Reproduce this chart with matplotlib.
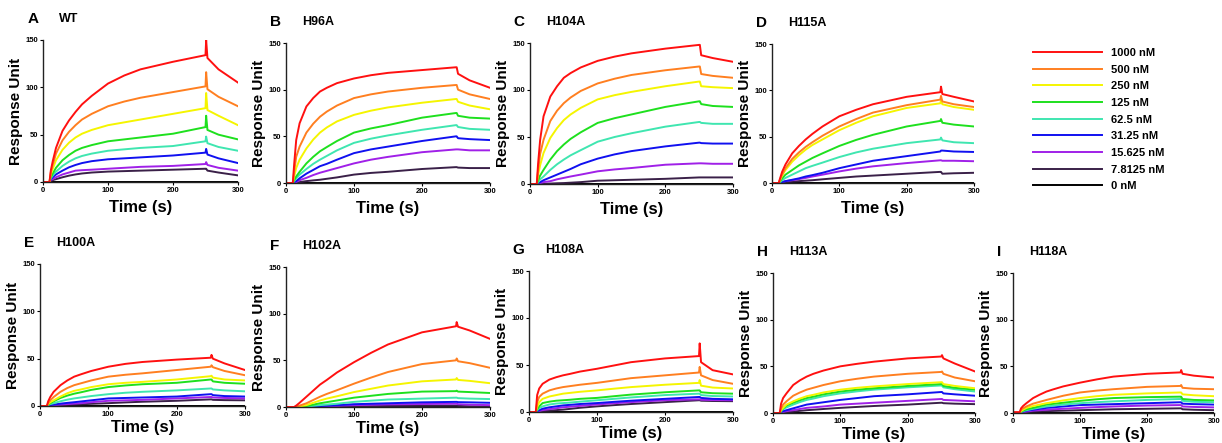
import numpy as np
import matplotlib
matplotlib.use('Agg')
import matplotlib.pyplot as plt

plt.rcParams['font.family'] = ['Liberation Sans', 'DejaVu Sans']
plt.rcParams['font.weight'] = 'bold'

# sampling times (s) shared by every sensorgram
time = [0, 10, 12, 15, 20, 30, 40, 50, 60, 75, 100, 125, 150, 200, 250,
        251, 253, 270, 300]

conc_labels = ['1000 nM', '500 nM', '250 nM', '125 nM', '62.5 nM',
               '31.25 nM', '15.625 nM', '7.8125 nM', '0 nM']
colors = ['#ff1010', '#ff7f20', '#f5f500', '#1ee01e', '#3fe6b0',
          '#1010f0', '#a020e8', '#3a2048', '#000000']

zero = [0] * len(time)

wt = [
    [0, 0, 12, 22, 36, 54, 65, 74, 82, 91, 104, 112.5, 119, 127, 134, 150, 131, 119, 105],
    [0, 0, 10, 18, 30, 44, 53, 60, 66, 72, 80, 85, 89, 95, 101, 116, 98, 90, 80],
    [0, 0, 8, 14, 23, 34, 41.5, 47, 51, 55, 60, 63, 66, 72, 78, 94, 76, 70, 60],
    [0, 0, 5, 9, 15, 23, 28.5, 33, 36, 39, 43, 45, 47, 51, 58, 70, 55, 50, 45],
    [0, 0, 4, 7, 11, 17, 21.5, 25, 27.5, 30, 33, 34.5, 36, 38, 43, 48, 41, 37, 33],
    [0, 0, 3, 5, 8, 12, 15.5, 18, 20, 22, 24, 25, 26, 28, 31, 35, 29, 25, 20],
    [0, 0, 2, 3, 5, 8, 10, 12, 12.5, 13, 14, 15, 16, 17, 19, 21, 18, 15, 12],
    [0, 0, 1, 2, 3, 5, 6.7, 8, 9, 10, 11, 11.5, 12, 13, 14, 14, 12, 10, 7],
    zero,
]

h96a = [
    [0, 0, 20, 46, 64, 82, 91, 98, 102, 107, 112, 115.5, 118, 121, 124, 124, 117, 110, 102],
    [0, 0, 12, 28, 39, 54, 63.5, 71, 76.5, 83, 91, 95, 98, 102, 105, 105, 100, 95, 90],
    [0, 0, 7, 16, 25, 37, 46.5, 54, 59.5, 66, 73, 77.5, 81, 86, 90, 90, 87, 83, 79],
    [0, 0, 3, 7, 12, 21, 28, 34, 38.5, 45, 54, 58.5, 62, 70, 75, 75, 72, 70, 69],
    [0, 0, 2, 5, 9, 15, 20.5, 25, 29, 35, 43, 47.5, 51, 57, 62, 62, 60, 58, 57],
    [0, 0, 1, 2, 5, 10, 14, 18, 20.5, 25, 32, 36, 39, 45, 50, 50, 48, 47, 46],
    [0, 0, 0.5, 1, 3, 5.5, 8.5, 11, 13, 16, 21, 25, 28, 33, 36, 36, 36, 35, 35],
    [0, 0, 0, 0.5, 1, 2, 2.8, 3.5, 4.5, 6, 9, 10.8, 12, 15, 17, 17, 16.5, 16, 16],
    zero,
]

h104a = [
    [0, 0, 22, 47, 72, 93, 104, 113, 118, 124, 131, 135.5, 139, 144, 148, 148, 137, 134, 130],
    [0, 0, 15, 32, 47, 67, 78, 86, 92, 99, 107, 112, 116, 121, 125, 125, 117, 115, 113],
    [0, 0, 10, 20, 33, 49, 59.5, 68, 74, 81, 90, 94.5, 98, 104, 109, 109, 104, 103, 102],
    [0, 0, 4, 9, 15, 26, 35, 42, 48, 55, 65, 70, 74, 82, 88, 88, 85, 83, 82],
    [0, 0, 2, 5, 8, 15, 21, 26, 30.5, 36, 45, 50, 54, 61, 66, 66, 65, 64, 64],
    [0, 0, 1, 2, 4, 7, 10, 13, 16, 21, 27, 31.5, 35, 40, 44, 44, 43.5, 43, 43],
    [0, 0, 0.5, 1, 2, 3, 5, 6.5, 8, 10, 13.5, 15.5, 17, 20.5, 22, 22, 22, 21.5, 21.5],
    [0, 0, 0, 0, 0.3, 0.5, 0.8, 1, 1.4, 2, 3.5, 4, 4.5, 5.5, 7, 7, 7, 7, 7],
    zero,
]

h115a = [
    [0, 0, 5, 12, 20, 32, 40, 47, 53, 61, 72, 79, 85, 93, 98, 104, 96, 93, 88],
    [0, 0, 4, 9, 16, 26, 33, 39, 44, 51, 61, 69, 76, 84, 90, 94, 88, 85, 82],
    [0, 0, 3, 8, 14, 23, 30, 36, 41, 47, 57, 65, 72, 81, 86, 89, 85, 82, 79],
    [0, 0, 2, 5, 9, 14, 19, 23, 27, 32, 40, 46.5, 52, 61, 67, 69, 65, 63, 61],
    [0, 0, 1, 3, 5.5, 9, 12.5, 16, 18.5, 22, 28, 33, 37, 43, 47, 49, 46, 44, 43],
    [0, 0, 0.5, 1, 2, 3.5, 5, 7, 8.5, 11, 16, 20, 24, 29, 34, 35, 35, 34, 33.5],
    [0, 0, 0.5, 1, 2, 3, 4.2, 5.5, 7, 9, 12.5, 15.5, 18, 21.5, 24.5, 24.5, 24, 24, 23.5],
    [0, 0, 0, 0.5, 1, 1.5, 2, 2.5, 3, 4, 5.5, 7, 8, 10, 12, 12, 10, 10.5, 11],
    zero,
]

h100a = [
    [0, 0, 5, 9.5, 15, 22, 27, 31, 33.5, 37, 41.5, 44.5, 46.5, 49, 51, 54, 50, 45, 38],
    [0, 0, 3, 6, 9.5, 15, 19, 22, 24, 27, 31, 33, 34.5, 38, 41.5, 43, 41, 37, 32.5],
    [0, 0, 2, 4, 6, 10, 13.5, 16, 17.5, 20, 23, 24.5, 25.5, 28, 31.5, 32, 30, 28, 27],
    [0, 0, 1.5, 3, 5, 8.5, 11, 13, 14.5, 17, 20, 21.7, 23, 24.5, 28, 28, 26, 24.5, 23.5],
    [0, 0, 1, 2, 3, 5, 6.7, 8, 9, 10.5, 12.5, 14, 15, 16.5, 18.5, 18.5, 17.5, 16.5, 15.5],
    [0, 0, 0.5, 1, 1.5, 2.5, 3.3, 4, 4.8, 6, 8, 8.5, 9, 10, 12.5, 12.5, 11.5, 10.5, 10],
    [0, 0, 0.3, 0.6, 1, 1.5, 2, 2.5, 3, 4, 5.5, 6, 6.5, 8, 9.5, 9.5, 9, 8.5, 8],
    [0, 0, 0, 0.3, 0.5, 1, 1.3, 1.5, 1.8, 2.3, 3, 3.8, 4.5, 5.5, 7, 7, 6.5, 6.2, 6],
    zero,
]

h102a = [
    [0, 0, 0, 1.5, 4.5, 11, 17.5, 24, 29, 37, 48, 58, 67, 80, 86.5, 91, 86, 82, 73],
    [0, 0, 0, 0.5, 1.5, 4, 7.5, 11, 14, 18, 25, 31.5, 37.5, 46, 50, 52, 49, 47, 42],
    [0, 0, 0, 0.2, 0.7, 2, 4.5, 7, 9, 11.5, 16, 19.5, 23, 27.5, 29.5, 31, 29, 28, 25.5],
    [0, 0, 0, 0.1, 0.3, 1, 2.5, 4, 5.2, 7, 10, 12, 14, 16.5, 17, 17.5, 16.5, 16, 15],
    [0, 0, 0, 0, 0.2, 0.5, 1.2, 2, 2.6, 3.5, 5.5, 6.8, 8, 9, 10, 10, 9.5, 9, 8.5],
    [0, 0, 0, 0, 0.1, 0.3, 0.6, 1, 1.4, 2, 3, 3.5, 4, 5, 5.5, 5.5, 5.2, 5, 4.5],
    [0, 0, 0, 0, 0, 0.2, 0.4, 0.7, 1, 1.3, 2, 2.4, 2.8, 3.2, 3.5, 3.5, 3, 2.5, 2],
    [0, 0, 0, 0, 0, 0.1, 0.2, 0.3, 0.4, 0.6, 0.8, 1, 1.1, 1.3, 1.5, 1.5, 1.2, 0.8, 0.5],
    zero,
]

h108a = [
    [0, 0, 18, 25, 30, 34.5, 37, 39, 40.5, 43, 46, 49.5, 53, 57, 59.5, 73, 53, 44.5, 40],
    [0, 0, 10.5, 16, 19.5, 23, 25, 26.5, 27.5, 29, 31, 33.5, 36, 39, 42, 48, 39, 34, 30],
    [0, 0, 5, 10.5, 14, 16.5, 18, 19.5, 20.3, 21.5, 23, 24.8, 26.5, 29, 31, 34, 28, 26, 25],
    [0, 0, 3, 6, 9.5, 11, 12, 12.5, 13, 14, 15, 16.8, 18.5, 21, 23, 23, 21, 20, 19.5],
    [0, 0, 2, 4, 6, 8, 9, 9.5, 10, 11, 12.5, 14, 15.5, 18, 19.5, 19.5, 18, 17, 16.5],
    [0, 0, 1, 2, 3.5, 5, 6, 7, 7.6, 8.5, 9.5, 10.8, 12, 14, 16, 16, 15, 14, 13.5],
    [0, 0, 0.5, 1, 2, 3, 4, 5, 5.6, 6.5, 8, 9.3, 10.5, 12.5, 13.5, 13.5, 13, 12.7, 12.5],
    [0, 0, 0.2, 0.5, 1, 1.5, 2, 2.5, 3.3, 4.5, 6, 7.3, 8.5, 10.5, 12.5, 12.5, 12, 11.7, 11.5],
    zero,
]

h113a = [
    [0, 0, 10, 16, 21, 30, 35, 39, 42, 45.5, 50, 52.7, 55, 58.5, 60.5, 62, 58.5, 53, 44.5],
    [0, 0, 5, 9, 12.5, 18.5, 22, 25, 27, 30, 34, 36.7, 39, 42, 44, 44.5, 42, 38, 34],
    [0, 0, 3, 5.5, 9, 12.5, 15.5, 18, 19.5, 22, 25, 27, 28.5, 31, 33, 33, 31, 29, 26.5],
    [0, 0, 2.5, 5, 8, 11, 13.7, 16, 17.5, 20, 23, 25, 26.5, 29, 31, 31, 29, 27, 25],
    [0, 0, 2, 4, 6, 9, 11.7, 14, 15.5, 18, 21, 23.2, 25, 27.5, 29.5, 29.5, 27.5, 25.5, 23],
    [0, 0, 1, 2, 3, 5, 7, 9, 10, 11.5, 14, 16, 18, 20, 22.5, 22.5, 21, 20, 18.5],
    [0, 0, 0.5, 1, 2, 3, 4.3, 5.5, 6.1, 7, 9, 10, 11, 13, 15, 15, 14, 13.5, 12.5],
    [0, 0, 0.3, 0.5, 1, 1.5, 2.3, 3, 3.5, 4.3, 5.5, 6.5, 7.5, 9, 11, 11, 10.5, 10, 9.5],
    zero,
]

h118a = [
    [1, 1, 5, 7.5, 10.5, 16, 19.7, 23, 25.3, 28.5, 32.5, 36, 39, 42, 43.5, 46, 42, 40, 38],
    [0, 0, 3.5, 5, 7, 10, 12, 14, 15.8, 18.5, 22, 24, 25.5, 28, 29, 30, 27, 26, 25.5],
    [0, 0, 2, 3.5, 5.5, 7.5, 9, 10.5, 11.7, 13.5, 16, 18, 19.5, 21, 22, 22, 20, 19, 18],
    [0, 0, 1.5, 2.5, 4, 5.5, 7.3, 9, 9.8, 11, 13, 14.7, 16, 17, 17.5, 17.5, 15, 14, 13.5],
    [0, 0, 1, 2, 3, 4.5, 5.8, 7, 7.8, 9, 10.5, 11.6, 12.5, 14, 15, 15, 13, 12, 11.5],
    [0, 0, 1, 1.5, 2.5, 3.5, 4.5, 5.5, 6.1, 7, 8.5, 9, 9.5, 10.5, 11.5, 11.5, 10, 9.5, 9],
    [0, 0, 0.5, 1, 1.5, 2.5, 3, 3.5, 4, 4.5, 5.5, 6.3, 7, 8, 8.5, 8.5, 7, 6.5, 6],
    [0, 0, 0.3, 0.5, 1, 1.5, 1.8, 2, 2.2, 2.5, 3, 3.5, 4, 4.5, 5, 5, 4, 3.5, 3],
    zero,
]

panels = [('A', 'WT', wt), ('B', 'H96A', h96a), ('C', 'H104A', h104a),
          ('D', 'H115A', h115a), ('E', 'H100A', h100a), ('F', 'H102A', h102a),
          ('G', 'H108A', h108a), ('H', 'H113A', h113a), ('I', 'H118A', h118a)]

# axes boxes in pixels: left, right, top, bottom
W, H = 1222, 443
boxes = [(43, 238, 40, 182), (286, 490, 43, 183), (530, 733, 43, 184),
         (772, 974, 44, 183), (40, 245, 264, 406), (286, 490, 267, 407),
         (529, 733, 271, 412), (773, 975, 273, 413), (1013, 1214, 273, 413)]

fig = plt.figure(figsize=(W / 100, H / 100), dpi=100)
fig.patch.set_facecolor('white')

handles = []
for k, (letter, name, data) in enumerate(panels):
    l, r, t, b = boxes[k]
    ax = fig.add_axes([l / W, 1 - b / H, (r - l) / W, (b - t) / H])
    for i in range(len(data) - 1, -1, -1):
        line, = ax.plot(time, data[i], color=colors[i], lw=1.4)
        if k == 0:
            handles.insert(0, line)
    ax.set_xlim(0, 300)
    ax.set_ylim(0, 150)
    ax.set_xticks([0, 100, 200, 300])
    ax.set_yticks([0, 50, 100, 150])
    ax.tick_params(labelsize=5.5, length=2, width=0.8, pad=1.5)
    for lab in ax.get_xticklabels() + ax.get_yticklabels():
        lab.set_fontweight('bold')
    for s in ['top', 'right']:
        ax.spines[s].set_visible(False)
    for s in ['left', 'bottom']:
        ax.spines[s].set_linewidth(1.0)
        ax.spines[s].set_color('#222222')
    ax.set_xlabel('Time (s)', fontsize=12, fontweight='bold',
                  labelpad=4.5 if k < 4 else 1.5)
    ax.set_ylabel('Response Unit', fontsize=11, fontweight='bold', labelpad=2)
    ax.text(-0.08, 1.15, letter, transform=ax.transAxes, fontsize=11,
            fontweight='bold', ha='left', va='center')
    ax.text(0.08, 1.15, name, transform=ax.transAxes, fontsize=9,
            fontweight='bold', ha='left', va='center')

fig.legend(handles, conc_labels, loc='upper left',
           bbox_to_anchor=(1023 / W, 1 - 38 / H), frameon=False,
           prop={'size': 8, 'weight': 'bold'}, handlelength=6.2,
           handletextpad=0.8, labelspacing=0.6)

plt.savefig('out.png', dpi=100)
